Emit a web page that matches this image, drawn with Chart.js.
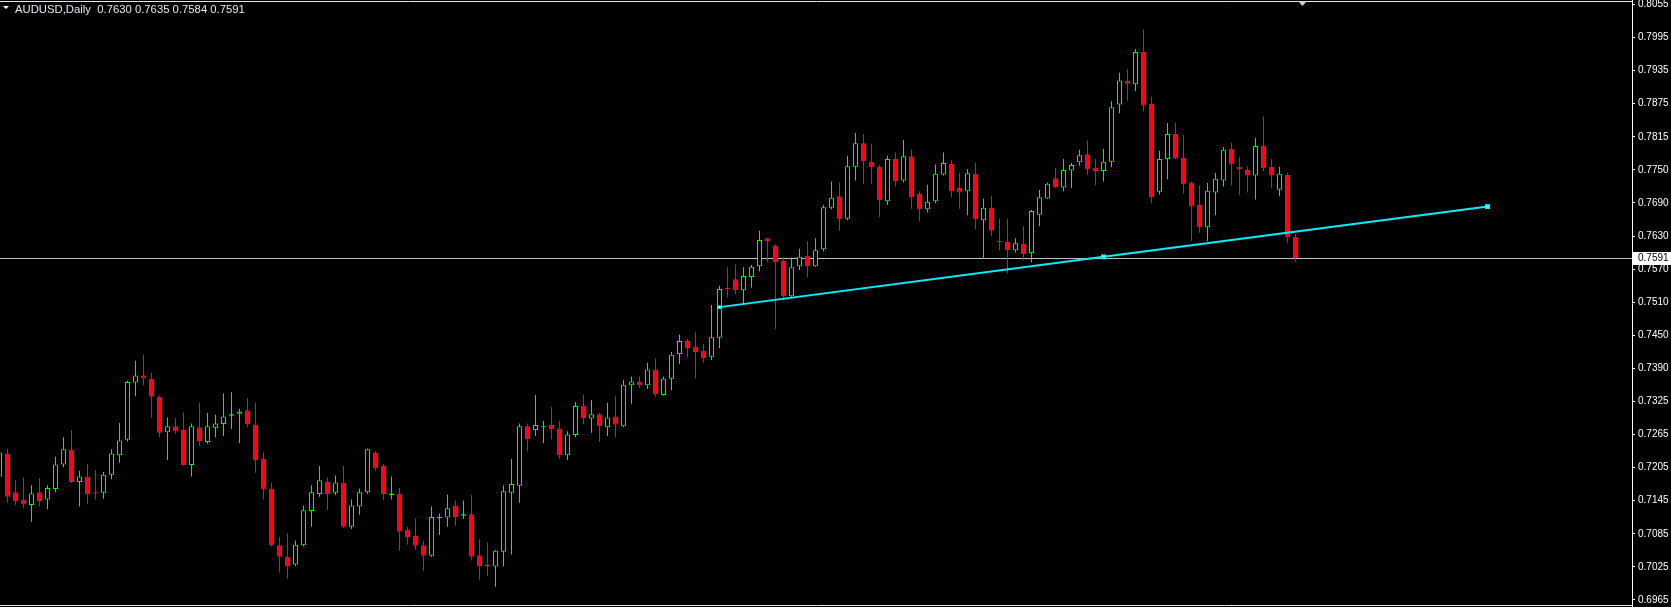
<!DOCTYPE html>
<html><head><meta charset="utf-8">
<script src="https://cdn.jsdelivr.net/npm/chart.js@4/dist/chart.umd.min.js"></script>
<style>html,body{margin:0;padding:0;background:#000;overflow:hidden}canvas{display:block}</style>
</head><body>
<canvas id="c" width="1671" height="607"></canvas>
<script>
const symbolTitle = 'AUDUSD,Daily';
const lastQuote = ['0.7630', '0.7635', '0.7584', '0.7591'];
const bidPrice = 0.7591;

const opens = [0.7191,0.7233,0.7162,0.7149,0.7139,0.7162,0.7149,0.7168,0.7213,0.7240,0.7181,0.7191,0.7162,0.7161,0.7194,0.7230,0.7258,0.7363,0.7376,0.7370,0.7337,0.7272,0.7283,0.7276,0.7212,0.7281,0.7254,0.7280,0.7287,0.7302,0.7306,0.7312,0.7286,0.7224,0.7169,0.7065,0.7044,0.7030,0.7065,0.7128,0.7159,0.7182,0.7161,0.7180,0.7099,0.7136,0.7162,0.7235,0.7210,0.7157,0.7160,0.7094,0.7082,0.7065,0.7046,0.7115,0.7116,0.7138,0.7119,0.7122,0.7047,0.7029,0.7026,0.7053,0.7161,0.7174,0.7283,0.7276,0.7281,0.7285,0.7279,0.7230,0.7267,0.7320,0.7297,0.7305,0.7281,0.7301,0.7283,0.7358,0.7365,0.7358,0.7387,0.7340,0.7370,0.7415,0.7439,0.7429,0.7421,0.7410,0.7445,0.7536,0.7552,0.7532,0.7556,0.7576,0.7627,0.7614,0.7586,0.7521,0.7576,0.7595,0.7576,0.7607,0.7683,0.7704,0.7663,0.7758,0.7801,0.7767,0.7758,0.7695,0.7772,0.7733,0.7777,0.7709,0.7680,0.7695,0.7744,0.7763,0.7719,0.7713,0.7745,0.7660,0.7683,0.7622,0.7620,0.7605,0.7617,0.7600,0.7670,0.7700,0.7737,0.7720,0.7751,0.7766,0.7781,0.7756,0.7750,0.7767,0.7872,0.7915,0.7909,0.7968,0.7873,0.7712,0.7772,0.7818,0.7774,0.7729,0.7688,0.7647,0.7711,0.7733,0.7791,0.7758,0.7752,0.7742,0.7797,0.7758,0.7716,0.7743,0.7630];
const highs = [0.7242,0.7242,0.7184,0.7189,0.7175,0.7188,0.7175,0.7227,0.7263,0.7276,0.7201,0.7214,0.7203,0.7199,0.7241,0.7289,0.7366,0.7403,0.7414,0.7381,0.7339,0.7299,0.7298,0.7308,0.7288,0.7326,0.7307,0.7304,0.7343,0.7345,0.7315,0.7334,0.7326,0.7235,0.7179,0.7080,0.7087,0.7074,0.7138,0.7175,0.7210,0.7189,0.7193,0.7210,0.7149,0.7169,0.7242,0.7237,0.7214,0.7191,0.7170,0.7099,0.7114,0.7073,0.7136,0.7123,0.7158,0.7147,0.7147,0.7157,0.7076,0.7070,0.7057,0.7175,0.7223,0.7288,0.7288,0.7340,0.7293,0.7318,0.7293,0.7274,0.7327,0.7340,0.7331,0.7307,0.7326,0.7338,0.7368,0.7374,0.7374,0.7399,0.7407,0.7374,0.7419,0.7451,0.7443,0.7455,0.7434,0.7505,0.7540,0.7574,0.7579,0.7574,0.7578,0.7641,0.7628,0.7616,0.7593,0.7592,0.7608,0.7622,0.7627,0.7688,0.7731,0.7729,0.7778,0.7820,0.7818,0.7800,0.7761,0.7778,0.7784,0.7807,0.7789,0.7713,0.7725,0.7762,0.7784,0.7771,0.7747,0.7754,0.7765,0.7700,0.7705,0.7663,0.7663,0.7627,0.7649,0.7679,0.7716,0.7729,0.7756,0.7772,0.7765,0.7789,0.7806,0.7772,0.7791,0.7878,0.7930,0.7937,0.7973,0.8009,0.7886,0.7787,0.7838,0.7838,0.7816,0.7731,0.7724,0.7728,0.7747,0.7794,0.7802,0.7776,0.7759,0.7811,0.7850,0.7772,0.7758,0.7747,0.7635];
const lows = [0.7186,0.7143,0.7139,0.7133,0.7108,0.7136,0.7131,0.7162,0.7208,0.7179,0.7136,0.7140,0.7149,0.7150,0.7186,0.7216,0.7255,0.7338,0.7358,0.7299,0.7263,0.7221,0.7269,0.7211,0.7191,0.7247,0.7251,0.7263,0.7265,0.7278,0.7252,0.7281,0.7198,0.7149,0.7063,0.7015,0.7004,0.7027,0.7063,0.7099,0.7154,0.7129,0.7157,0.7097,0.7095,0.7121,0.7159,0.7201,0.7148,0.7149,0.7055,0.7066,0.7057,0.7018,0.7044,0.7084,0.7099,0.7101,0.7113,0.7037,0.7002,0.7009,0.6989,0.7026,0.7048,0.7143,0.7237,0.7265,0.7252,0.7259,0.7223,0.7221,0.7263,0.7287,0.7271,0.7254,0.7265,0.7263,0.7281,0.7324,0.7353,0.7351,0.7337,0.7339,0.7349,0.7397,0.7409,0.7371,0.7399,0.7404,0.7426,0.7519,0.7525,0.7506,0.7537,0.7566,0.7583,0.7461,0.7513,0.7519,0.7569,0.7556,0.7575,0.7603,0.7680,0.7641,0.7660,0.7733,0.7726,0.7727,0.7666,0.7688,0.7722,0.7729,0.7681,0.7658,0.7674,0.7691,0.7742,0.7702,0.7681,0.7669,0.7644,0.7589,0.7631,0.7605,0.7563,0.7601,0.7587,0.7583,0.7649,0.7699,0.7719,0.7713,0.7719,0.7760,0.7743,0.7724,0.7731,0.7757,0.7856,0.7879,0.7896,0.7859,0.7691,0.7707,0.7735,0.7772,0.7709,0.7622,0.7637,0.7622,0.7669,0.7722,0.7724,0.7706,0.7711,0.7698,0.7750,0.7719,0.7704,0.7618,0.7584];
const closes = [0.7235,0.7154,0.7146,0.7140,0.7160,0.7146,0.7170,0.7213,0.7241,0.7181,0.7191,0.7159,0.7160,0.7194,0.7233,0.7257,0.7364,0.7376,0.7371,0.7337,0.7271,0.7283,0.7274,0.7212,0.7283,0.7256,0.7283,0.7288,0.7301,0.7305,0.7310,0.7287,0.7221,0.7167,0.7065,0.7044,0.7027,0.7066,0.7129,0.7162,0.7184,0.7159,0.7180,0.7099,0.7138,0.7162,0.7241,0.7206,0.7159,0.7160,0.7090,0.7080,0.7064,0.7046,0.7117,0.7117,0.7133,0.7117,0.7122,0.7044,0.7027,0.7026,0.7055,0.7164,0.7177,0.7283,0.7259,0.7285,0.7283,0.7278,0.7230,0.7268,0.7320,0.7298,0.7305,0.7283,0.7299,0.7286,0.7359,0.7365,0.7358,0.7387,0.7341,0.7370,0.7414,0.7439,0.7426,0.7419,0.7408,0.7446,0.7534,0.7534,0.7532,0.7558,0.7575,0.7624,0.7622,0.7583,0.7521,0.7574,0.7593,0.7576,0.7605,0.7684,0.7701,0.7662,0.7759,0.7801,0.7768,0.7757,0.7697,0.7772,0.7732,0.7777,0.7702,0.7680,0.7694,0.7745,0.7765,0.7713,0.7711,0.7746,0.7662,0.7683,0.7641,0.7620,0.7605,0.7618,0.7598,0.7677,0.7702,0.7727,0.7720,0.7752,0.7761,0.7779,0.7753,0.7750,0.7767,0.7867,0.7916,0.7910,0.7968,0.7870,0.7702,0.7772,0.7818,0.7773,0.7726,0.7685,0.7647,0.7714,0.7736,0.7789,0.7762,0.7753,0.7742,0.7796,0.7755,0.7742,0.7745,0.7629,0.7591];
const barIndex = opens.map((_, i) => i - 1);

const tickLabels = ['0.8055','0.7995','0.7935','0.7875','0.7815','0.7750','0.7690','0.7630','0.7570','0.7510','0.7450','0.7390','0.7325','0.7265','0.7205','0.7145','0.7085','0.7025','0.6965'];

const trendX = [89, 137, 185];
const trendY = [0.7501, 0.7593, 0.7685];

const UP = '#00ff00', DOWN_WICK = '#e0103c', DOWN_BODY = '#ff0018', TREND = '#00f0ff';
const isUp = i => closes[i] >= opens[i];

const tTop = parseFloat(tickLabels[0]), tBot = parseFloat(tickLabels[tickLabels.length - 1]);
const tickValues = tickLabels.map((_, k) => tTop - k * (tTop - tBot) / (tickLabels.length - 1));

const overlay = {
  id: 'mt4overlay',
  beforeDatasetsDraw(chart) {
    const { ctx, chartArea: a, scales: { y } } = chart;
    const yb = Math.round(y.getPixelForValue(bidPrice)) + 0.5;
    ctx.save();
    ctx.strokeStyle = '#c0c0c0'; ctx.lineWidth = 1;
    ctx.beginPath(); ctx.moveTo(a.left, yb); ctx.lineTo(a.right, yb); ctx.stroke();
    ctx.restore();
  },
  afterDraw(chart) {
    const { ctx, chartArea: a, scales: { y } } = chart;
    ctx.save();
    ctx.strokeStyle = '#e8e8e8'; ctx.lineWidth = 1;
    ctx.beginPath();
    ctx.moveTo(a.left, 1.5); ctx.lineTo(a.right + 1, 1.5);
    ctx.moveTo(a.left, 605.5); ctx.lineTo(a.right + 1, 605.5);
    ctx.stroke();
    ctx.fillStyle = '#d0d0d0';
    ctx.beginPath(); ctx.moveTo(1298, 1); ctx.lineTo(1307, 1); ctx.lineTo(1302.5, 6); ctx.closePath(); ctx.fill();
    ctx.fillStyle = '#ffffff';
    ctx.beginPath(); ctx.moveTo(3, 6); ctx.lineTo(9, 6); ctx.lineTo(6, 9); ctx.closePath(); ctx.fill();
    ctx.font = '11.3px "Liberation Sans"';
    ctx.fillStyle = '#e4eaf2';
    ctx.textBaseline = 'alphabetic';
    ctx.fillText(symbolTitle + '  ' + lastQuote.join(' '), 15, 12.5);
    const yb = Math.round(y.getPixelForValue(bidPrice));
    ctx.fillStyle = '#ffffff';
    ctx.fillRect(a.right + 1, yb - 6, 40, 13);
    ctx.fillStyle = '#000000';
    ctx.textBaseline = 'middle';
    ctx.font = '10px "Liberation Sans"';
    ctx.fillText(bidPrice.toFixed(4), a.right + 6, yb + 0.5);
    ctx.restore();
  }
};

new Chart(document.getElementById('c'), {
  type: 'bar',
  data: {
    datasets: [
      {
        type: 'line', label: 'anchors',
        data: trendX.map((x, i) => ({ x, y: trendY[i] })),
        showLine: false, pointStyle: 'rect', pointRadius: 1.2,
        pointBackgroundColor: '#ffffff', pointBorderWidth: 0
      },
      {
        type: 'line', label: 'trend',
        data: trendX.map((x, i) => ({ x, y: trendY[i] })),
        borderColor: TREND, borderWidth: 2, pointStyle: 'rect',
        pointRadius: [2.5, 3.5, 3.5], pointBackgroundColor: TREND, pointBorderWidth: 0,
        tension: 0
      },
      {
        label: 'body',
        data: barIndex.map((x, i) => ({ x, y: [opens[i], closes[i]] })),
        backgroundColor: c => isUp(c.dataIndex) ? '#000000' : DOWN_BODY,
        borderColor: c => isUp(c.dataIndex) ? UP : DOWN_WICK,
        borderWidth: 1, borderSkipped: false, barThickness: 5, minBarLength: 1,
        grouped: false, inflateAmount: 0
      },
      {
        label: 'wick',
        data: barIndex.map((x, i) => ({ x, y: [lows[i], highs[i]] })),
        backgroundColor: c => isUp(c.dataIndex) ? UP : DOWN_WICK,
        borderWidth: 0, barThickness: 1, grouped: false, inflateAmount: 0, minBarLength: 1
      }
    ]
  },
  options: {
    responsive: false, animation: false, devicePixelRatio: 1,
    layout: { autoPadding: false, padding: { top: 0, bottom: 1, left: 0, right: 0 } },
    plugins: { legend: { display: false }, tooltip: { enabled: false }, title: { display: false } },
    scales: {
      x: { type: 'linear', min: -0.9375, max: 203.0625, offset: false, bounds: 'data', display: false },
      y: {
        position: 'right', min: 0.69539, max: 0.80632, offset: false,
        afterBuildTicks: s => { s.ticks = tickValues.map(v => ({ value: v })); },
        afterFit: s => { s.width = 39; s.paddingTop = 0; s.paddingBottom = 0; },
        grid: { drawOnChartArea: false, drawTicks: true, tickLength: 3, color: '#ffffff' },
        border: { display: true, color: '#ffffff', width: 1 },
        ticks: {
          autoSkip: false, padding: 3, color: '#ffffff',
          font: { family: 'Liberation Sans', size: 10 },
          callback: (v, i) => tickLabels[i]
        }
      }
    }
  },
  plugins: [overlay]
});
</script>
</body></html>
